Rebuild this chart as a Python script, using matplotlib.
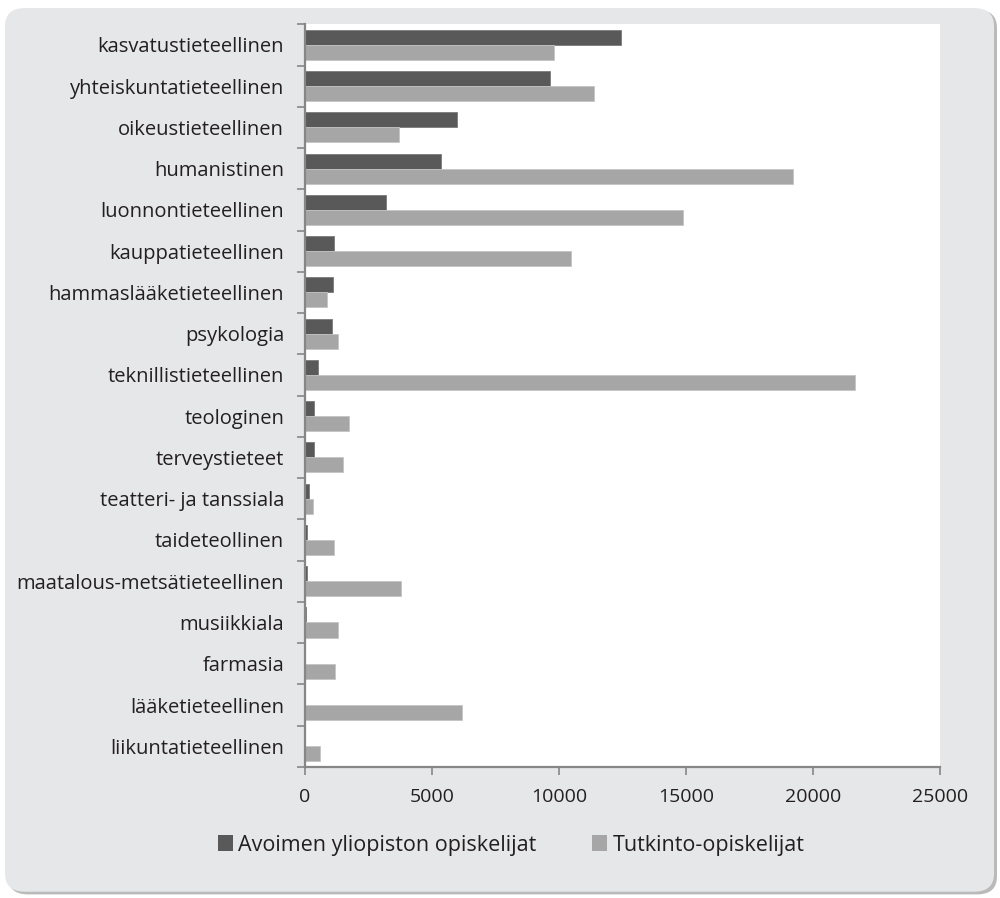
import matplotlib.pyplot as plt
import numpy as np
from matplotlib.patches import FancyBboxPatch, Patch


CATEGORIES = [
    "kasvatustieteellinen",
    "yhteiskuntatieteellinen",
    "oikeustieteellinen",
    "humanistinen",
    "luonnontieteellinen",
    "kauppatieteellinen",
    "hammaslääketieteellinen",
    "psykologia",
    "teknillistieteellinen",
    "teologinen",
    "terveystieteet",
    "teatteri- ja tanssiala",
    "taideteollinen",
    "maatalous-metsätieteellinen",
    "musiikkiala",
    "farmasia",
    "lääketieteellinen",
    "liikuntatieteellinen",
]
AVOIN = [12430, 9660, 5970, 5360, 3180, 1160, 1120, 1080, 500, 370, 370, 170,
         90, 60, 20, 0, 0, 0]
TUTKINTO = [9820, 11380, 3690, 19210, 14900, 10490, 880, 1310, 21650, 1750,
            1510, 300, 1140, 3790, 1290, 1170, 6190, 600]
SERIES_LABELS = ["Avoimen yliopiston opiskelijat", "Tutkinto-opiskelijat"]
X_TICKS = [0, 5000, 10000, 15000, 20000, 25000]

DARK = "#595959"
LIGHT = "#a6a6a6"
PANEL = "#e6e7e8"
AXIS = "#868686"
TEXT = "#231f20"

plt.rcParams["font.family"] = ["Open Sans", "DejaVu Sans"]

fig = plt.figure(figsize=(10, 8.98), dpi=100)
fig.patch.set_facecolor("white")

# rounded grey panel with a soft shadow on the right/bottom
shadow = FancyBboxPatch((0.008, 0.004), 0.989, 0.985,
                        boxstyle="round,pad=0,rounding_size=0.02",
                        transform=fig.transFigure, facecolor="#8c8c8c",
                        edgecolor="none", alpha=0.6, zorder=0)
panel = FancyBboxPatch((0.005, 0.007), 0.989, 0.984,
                       boxstyle="round,pad=0,rounding_size=0.02",
                       transform=fig.transFigure, facecolor=PANEL,
                       edgecolor="none", zorder=1)
fig.patches.extend([shadow, panel])

ax = fig.add_axes([0.305, 0.146, 0.635, 0.827])
ax.set_facecolor("white")
ax.set_zorder(2)

y = np.arange(len(CATEGORIES))
h = 0.364
ax.barh(y - h / 2, AVOIN, height=h, color=DARK, edgecolor="#7a7a7a",
        linewidth=0.6, label=SERIES_LABELS[0])
ax.barh(y + h / 2, TUTKINTO, height=h, color=LIGHT, edgecolor="#c4c4c4",
        linewidth=0.6, label=SERIES_LABELS[1])

ax.set_xlim(0, 25000)
ax.set_ylim(len(CATEGORIES) - 0.5, -0.5)

ax.set_yticks(y)
ax.set_yticklabels(CATEGORIES)
ax.set_yticks(np.arange(-0.5, len(CATEGORIES)), minor=True)
ax.tick_params(axis="y", which="major", length=0, pad=15, labelsize=14.5,
               labelcolor=TEXT)
ax.tick_params(axis="y", which="minor", length=5.5, width=1.2, color=AXIS)

ax.set_xticks(X_TICKS)
ax.set_xticklabels([str(t) for t in X_TICKS])
ax.tick_params(axis="x", length=5.5, width=1.2, color=AXIS, pad=10,
               labelsize=14, labelcolor=TEXT)

for side in ["top", "right"]:
    ax.spines[side].set_visible(False)
for side in ["left", "bottom"]:
    ax.spines[side].set_color(AXIS)
    ax.spines[side].set_linewidth(1.6)

handles = [Patch(facecolor=DARK, edgecolor="none"),
           Patch(facecolor=LIGHT, edgecolor="none")]
leg = fig.legend(handles, SERIES_LABELS, loc="center", ncol=2,
                 bbox_to_anchor=(0.511, 0.059), frameon=False,
                 fontsize=15.5, handlelength=0.7, handleheight=0.7,
                 handletextpad=0.25, columnspacing=2.6)
for t in leg.get_texts():
    t.set_color(TEXT)
leg.set_zorder(3)

fig.savefig("out.png", dpi=100)
